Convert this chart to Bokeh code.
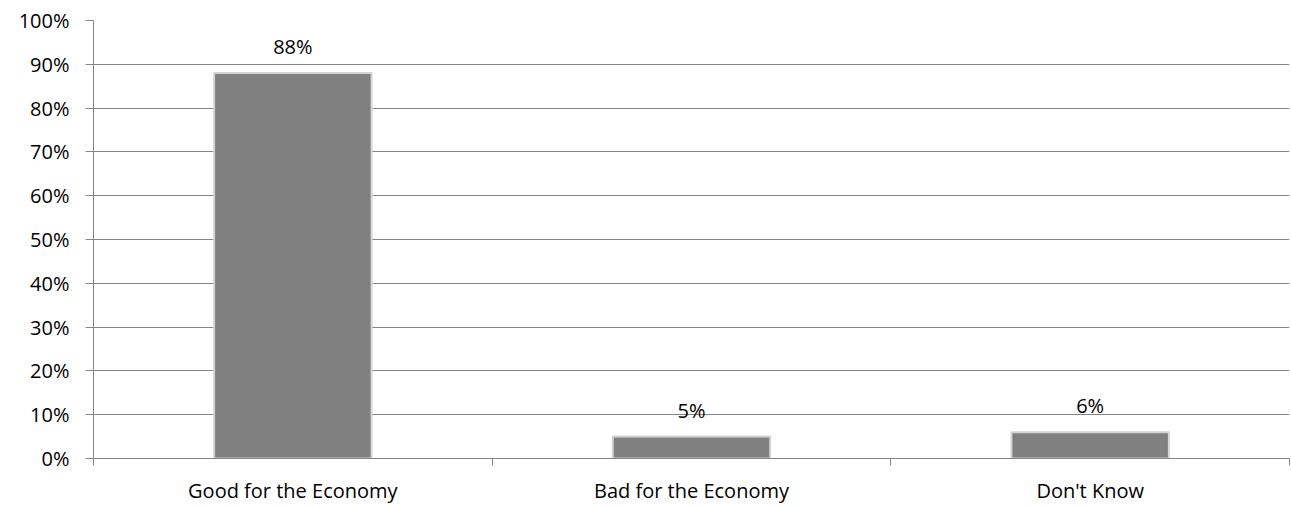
from bokeh.plotting import figure
from bokeh.models import ColumnDataSource, FixedTicker, LabelSet, Range1d, NumeralTickFormatter
from bokeh.core.properties import value
from bokeh.embed import file_html
from bokeh.resources import INLINE

categories = ["Good for the Economy", "Bad for the Economy", "Don't Know"]
values = [0.88, 0.05, 0.06]
value_labels = ["88%", "5%", "6%"]
y_ticks = [0.0, 0.1, 0.2, 0.3, 0.4, 0.5, 0.6, 0.7, 0.8, 0.9, 1.0]

xs = [i + 0.5 for i in range(len(categories))]
src = ColumnDataSource(dict(x=xs, top=values, lab=value_labels))

FONT = "Open Sans"
GRID = "#868686"

p = figure(width=1290, height=506, output_backend="svg", toolbar_location=None,
           x_range=Range1d(0, len(categories)), y_range=Range1d(0, 1.0),
           min_border_left=93, min_border_right=1, min_border_top=20, min_border_bottom=43)
p.outline_line_color = None
p.background_fill_color = "white"

p.vbar(x="x", top="top", width=0.395, source=src, fill_color="#808080",
       line_color="#d4d4d4", line_width=2)

labels = LabelSet(x="x", y="top", text="lab", source=src, text_align="center",
                  text_baseline="bottom", y_offset=13, text_font=value(FONT),
                  text_font_size="20px", text_color="#000000")
p.add_layout(labels)

# x axis
p.xaxis.ticker = FixedTicker(ticks=xs, minor_ticks=[0, 1, 2, 3])
p.xaxis.major_label_overrides = {x: c for x, c in zip(xs, categories)}
p.xaxis.major_tick_out = 0
p.xaxis.major_tick_in = 0
p.xaxis.minor_tick_out = 7
p.xaxis.minor_tick_in = 0
p.xaxis.minor_tick_line_color = GRID
p.xaxis.axis_line_color = GRID
p.xaxis.major_label_text_font = FONT
p.xaxis.major_label_text_font_size = "20px"
p.xaxis.major_label_text_color = "#000000"
p.xaxis.major_label_standoff = 11

# y axis
p.yaxis.ticker = FixedTicker(ticks=y_ticks)
p.yaxis.formatter = NumeralTickFormatter(format="0%")
p.yaxis.major_tick_out = 8
p.yaxis.major_tick_in = 0
p.yaxis.minor_tick_line_color = None
p.yaxis.major_tick_line_color = GRID
p.yaxis.axis_line_color = GRID
p.yaxis.major_label_text_font = FONT
p.yaxis.major_label_text_font_size = "20px"
p.yaxis.major_label_text_color = "#000000"
p.yaxis.major_label_standoff = 16

p.xgrid.grid_line_color = None
p.ygrid.grid_line_color = GRID
p.ygrid.grid_line_width = 1

open("out.html", "w").write(file_html(p, INLINE))
